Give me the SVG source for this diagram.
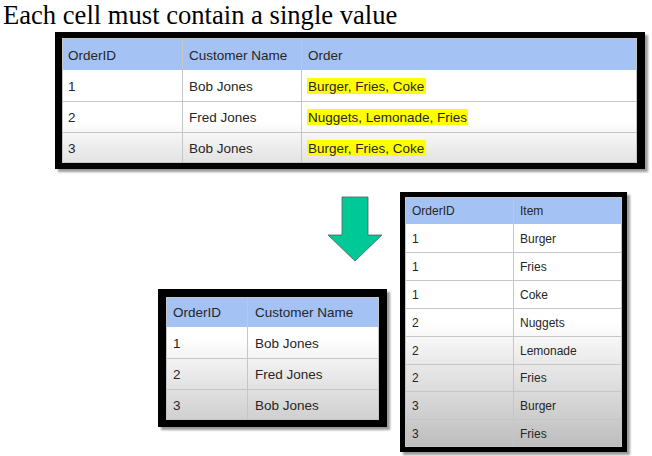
<svg xmlns="http://www.w3.org/2000/svg" width="652" height="456" viewBox="0 0 652 456">
<defs>
<style>
.t{font-family:"Liberation Sans",Arial,sans-serif;font-size:13.5px;fill:#262626}
.ts{font-family:"Liberation Sans",Arial,sans-serif;font-size:12px;fill:#262626}
.frame{fill:#000}
.shadow{fill:#9a9a9a;filter:url(#blur)}
.hdr{fill:#a4c2f4}
.grid{stroke:#c6c6c6;stroke-width:1;fill:none}
.hl{fill:#ffff00}
</style>
<filter id="blur" x="-5%" y="-5%" width="110%" height="110%"><feGaussianBlur stdDeviation="1.2"/></filter>
<linearGradient id="g1" x1="0" y1="0" x2="0" y2="1"><stop offset="0" stop-color="#fff"/><stop offset="0.66" stop-color="#fff"/><stop offset="1" stop-color="#e2e2e2"/></linearGradient>
<linearGradient id="g2" x1="0" y1="0" x2="0" y2="1"><stop offset="0" stop-color="#fff"/><stop offset="0.33" stop-color="#fff"/><stop offset="1" stop-color="#cfcfcf"/></linearGradient>
<linearGradient id="g3" x1="0" y1="0" x2="0" y2="1"><stop offset="0" stop-color="#fff"/><stop offset="0.5" stop-color="#fff"/><stop offset="1" stop-color="#bdbdbd"/></linearGradient>
</defs>
<rect width="652" height="456" fill="#fff"/>
<text x="3" y="23.5" font-family="'Liberation Serif','Times New Roman',serif" font-size="26.6" fill="#000">Each cell must contain a single value</text>

<g id="table-orders">
<rect class="shadow" x="58" y="35" width="590" height="137"/>
<rect class="frame" x="55" y="32" width="590" height="137"/>
<rect x="62" y="38" width="575" height="125" fill="url(#g1)"/>
<rect y="38" x="62" width="575" height="32" class="hdr"/>
<rect class="hl" x="307" y="78" width="119" height="16"/>
<rect class="hl" x="307" y="109" width="161" height="16"/>
<rect class="hl" x="307" y="140" width="119" height="16"/>
<path class="grid" d="M62.5,38.5H636.5V162.5H62.5Z M62,101.5H637 M62,132.5H637 M182.5,38V163 M301.5,38V163"/>
<text class="t" x="68" y="60">OrderID</text>
<text class="t" x="189" y="60">Customer Name</text>
<text class="t" x="308" y="60">Order</text>
<text class="t" x="68" y="91">1</text>
<text class="t" x="189" y="91">Bob Jones</text>
<text class="t" x="308" y="91">Burger, Fries, Coke</text>
<text class="t" x="68" y="122">2</text>
<text class="t" x="189" y="122">Fred Jones</text>
<text class="t" x="308" y="122">Nuggets, Lemonade, Fries</text>
<text class="t" x="68" y="153">3</text>
<text class="t" x="189" y="153">Bob Jones</text>
<text class="t" x="308" y="153">Burger, Fries, Coke</text>
</g>

<g id="connectors">
<polygon points="342,197 368,197 368,235 382,235 355,261 328,235 342,235" fill="#00c896" stroke="#5a5a5a" stroke-width="0.8"/>
</g>

<g id="table-customers">
<rect class="shadow" x="161" y="292" width="229" height="138"/>
<rect class="frame" x="158" y="289" width="229" height="138"/>
<rect x="166" y="297" width="213" height="123" fill="url(#g2)"/>
<rect x="166" y="297" width="213" height="30" class="hdr"/>
<path class="grid" d="M166.5,297.5H378.5V419.5H166.5Z M166,358.5H379 M166,389.5H379 M247.5,297V420"/>
<text class="t" x="173" y="317">OrderID</text>
<text class="t" x="255" y="317">Customer Name</text>
<text class="t" x="173" y="348">1</text>
<text class="t" x="255" y="348">Bob Jones</text>
<text class="t" x="173" y="379">2</text>
<text class="t" x="255" y="379">Fred Jones</text>
<text class="t" x="173" y="410">3</text>
<text class="t" x="255" y="410">Bob Jones</text>
</g>

<g id="table-items">
<rect class="shadow" x="403" y="195" width="227" height="260"/>
<rect class="frame" x="400" y="192" width="227" height="260"/>
<rect x="405" y="197" width="217" height="250" fill="url(#g3)"/>
<rect x="405" y="197" width="217" height="27" class="hdr"/>
<path class="grid" d="M405.5,197.5H621.5V446.5H405.5Z M405,252.5H622 M405,280.5H622 M405,308.5H622 M405,336.5H622 M405,364.5H622 M405,391.5H622 M405,419.5H622 M513.5,197V447"/>
<text class="ts" x="412" y="215">OrderID</text>
<text class="ts" x="520" y="215">Item</text>
<text class="ts" x="412" y="243">1</text>
<text class="ts" x="520" y="243">Burger</text>
<text class="ts" x="412" y="271">1</text>
<text class="ts" x="520" y="271">Fries</text>
<text class="ts" x="412" y="299">1</text>
<text class="ts" x="520" y="299">Coke</text>
<text class="ts" x="412" y="327">2</text>
<text class="ts" x="520" y="327">Nuggets</text>
<text class="ts" x="412" y="355">2</text>
<text class="ts" x="520" y="355">Lemonade</text>
<text class="ts" x="412" y="382">2</text>
<text class="ts" x="520" y="382">Fries</text>
<text class="ts" x="412" y="410">3</text>
<text class="ts" x="520" y="410">Burger</text>
<text class="ts" x="412" y="438">3</text>
<text class="ts" x="520" y="438">Fries</text>
</g>
</svg>
